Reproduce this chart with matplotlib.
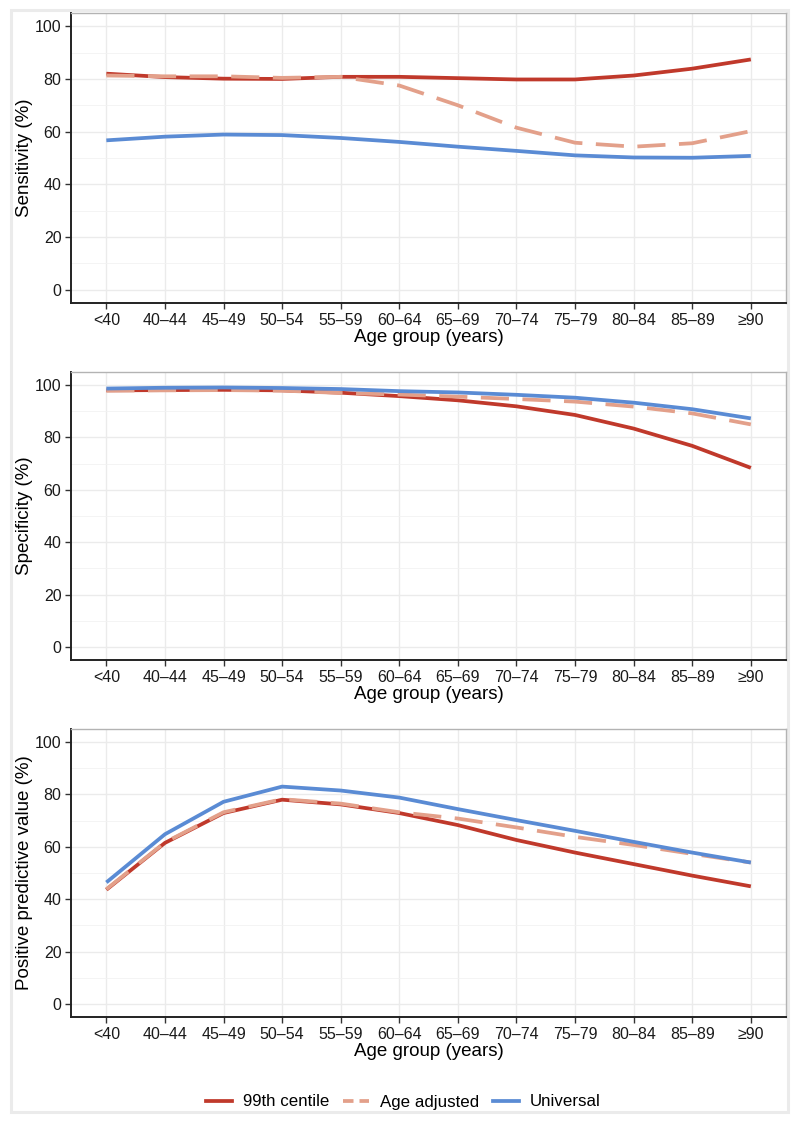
import numpy as np
import matplotlib
matplotlib.use("Agg")
import matplotlib.pyplot as plt
from matplotlib.patches import Rectangle
from matplotlib.lines import Line2D
from matplotlib.ticker import MultipleLocator

plt.rcParams['font.family'] = ['Liberation Sans', 'DejaVu Sans']

# ---------------------------------------------------------------
# data
# ---------------------------------------------------------------
age_groups = ["<40", "40\u201344", "45\u201349", "50\u201354", "55\u201359", "60\u201364",
              "65\u201369", "70\u201374", "75\u201379", "80\u201384", "85\u201389", "\u226590"]

sens_99th = [82.0, 80.7, 80.1, 80.0, 80.8, 80.8, 80.3, 79.8, 79.8, 81.3, 83.9, 87.4]
sens_age = [81.3, 81.0, 81.0, 80.4, 80.8, 77.5, 70.0, 61.5, 55.8, 54.3, 55.6, 60.2]
sens_univ = [56.7, 58.1, 58.9, 58.7, 57.6, 56.1, 54.3, 52.7, 51.0, 50.2, 50.1, 50.8]

spec_99th = [98.0, 98.1, 98.2, 98.0, 97.1, 95.8, 94.2, 91.9, 88.6, 83.4, 76.8, 68.4]
spec_age = [97.9, 98.0, 98.1, 97.9, 97.0, 96.4, 95.6, 94.7, 93.7, 91.8, 89.2, 85.0]
spec_univ = [98.7, 99.0, 99.1, 98.9, 98.5, 97.7, 97.2, 96.3, 95.2, 93.3, 90.8, 87.3]

ppv_99th = [43.6, 61.5, 72.9, 78.0, 76.2, 72.9, 68.3, 62.6, 57.8, 53.4, 49.0, 44.9]
ppv_age = [43.8, 61.7, 73.2, 78.2, 76.5, 73.2, 70.8, 67.4, 63.8, 60.7, 57.3, 54.0]
ppv_univ = [46.4, 64.8, 77.2, 83.0, 81.5, 78.8, 74.4, 70.2, 66.1, 61.9, 57.8, 54.0]

series_names = ["99th centile", "Age adjusted", "Universal"]
colors = ["#C0392B", "#E3A08A", "#5A8BD4"]
styles = ["-", (0, (7.5, 3.6)), "-"]
legend_styles = ["-", (0, (2.8, 1.6)), "-"]

panels = [
    ("Sensitivity (%)", [sens_99th, sens_age, sens_univ]),
    ("Specificity (%)", [spec_99th, spec_age, spec_univ]),
    ("Positive predictive value (%)", [ppv_99th, ppv_age, ppv_univ]),
]

# ---------------------------------------------------------------
# figure
# ---------------------------------------------------------------
fig = plt.figure(figsize=(8, 11.25), dpi=100)

# light outer frame (behind everything)
fig.patches.append(Rectangle((11 / 800, 1 - 1112 / 1125), 777 / 800, 1102 / 1125,
                             transform=fig.transFigure, fill=False, zorder=-5,
                             edgecolor="#EBEBEB", linewidth=2.2))

boxes = [(0.7307, 0.2577), (0.4133, 0.2560), (0.0960, 0.2560)]
x = np.arange(len(age_groups))
LW = 2.7

for (ylabel, data), (bottom, height) in zip(panels, boxes):
    ax = fig.add_axes([0.089, bottom, 0.8935, height])

    for vals, col, ls, name in zip(data, colors, styles, series_names):
        ax.plot(x, vals, color=col, linestyle=ls, linewidth=LW,
                solid_capstyle="butt", dash_capstyle="butt", label=name)

    ax.set_xlim(-0.6, len(age_groups) - 1 + 0.6)
    ax.set_ylim(-5, 105)
    ax.set_xticks(x)
    ax.set_xticklabels(age_groups)
    ax.yaxis.set_major_locator(MultipleLocator(20))
    ax.yaxis.set_minor_locator(MultipleLocator(10))

    ax.grid(True, which="major", color="#EBEBEB", linewidth=1.0)
    ax.grid(True, which="minor", axis="y", color="#F2F2F2", linewidth=0.6)
    ax.set_axisbelow(True)

    for side in ["top", "right"]:
        ax.spines[side].set_color("#B3B3B3")
        ax.spines[side].set_linewidth(1.0)
    for side in ["left", "bottom"]:
        ax.spines[side].set_color("#222222")
        ax.spines[side].set_linewidth(1.4)

    ax.tick_params(axis="both", which="major", direction="out", length=4,
                   width=1.0, color="#333333", labelsize=11.5, labelcolor="#1A1A1A", pad=3)
    ax.tick_params(axis="y", which="minor", length=0)

    ax.set_xlabel("Age group (years)", fontsize=13.5, labelpad=1)
    ax.set_ylabel(ylabel, fontsize=13.5, labelpad=1.5)

# legend with shorter dashes in the key
handles = [Line2D([], [], color=c, linestyle=s, linewidth=LW, dash_capstyle="butt")
           for c, s in zip(colors, legend_styles)]
fig.legend(handles, series_names, loc="center", bbox_to_anchor=(0.504, 1 - 1102 / 1125),
           ncol=3, frameon=False, fontsize=12.2, handlelength=1.55,
           handletextpad=0.65, columnspacing=0.8)

fig.savefig("out.png", dpi=100, facecolor="white")
plt.close()
